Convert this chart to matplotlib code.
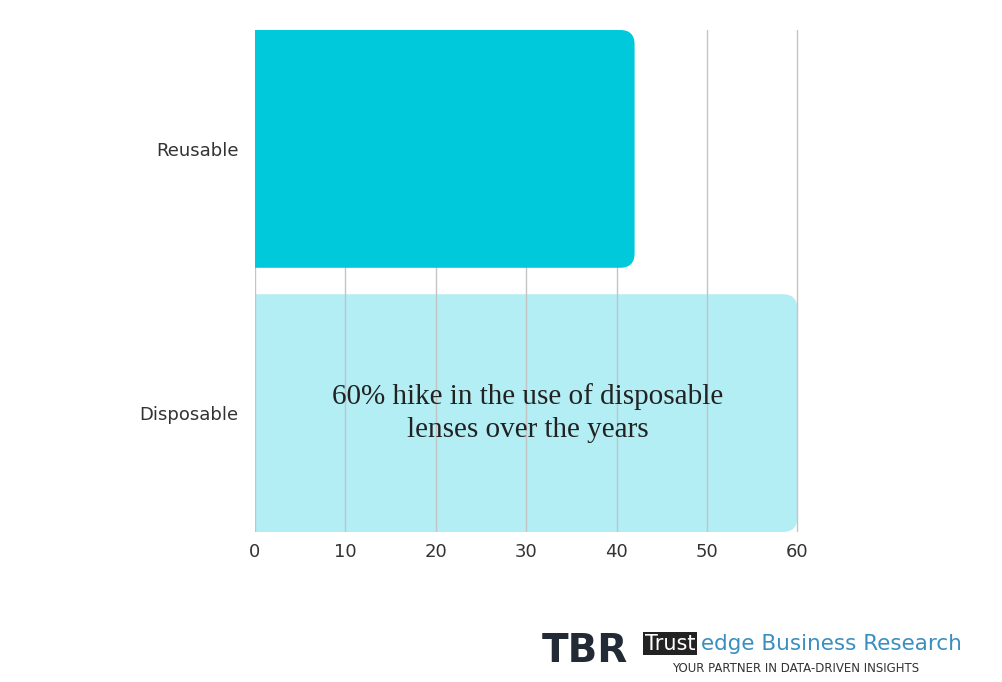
import matplotlib.pyplot as plt
from matplotlib.patches import FancyBboxPatch

categories = ['Reusable', 'Disposable']
values = [42, 60]
colors = ['#00C9DC', '#00C9DC']
alphas = [1.0, 0.3]
ticks = [0, 10, 20, 30, 40, 50, 60]

fig = plt.figure(figsize=(10.03, 6.82), dpi=100)
fig.patch.set_facecolor('white')
ax = fig.add_axes([255 / 1003, 1 - 532 / 682, 545 / 1003, 502 / 682])

bars = ax.barh(range(len(categories)), values, height=0.9, color='none')
for b, c, a, z in zip(bars, colors, alphas, [3, 1]):
    x, y, w, h = b.get_x(), b.get_y(), b.get_width(), b.get_height()
    # rounded on the right; left round is clipped at the axis
    p = FancyBboxPatch((x - 3, y), w + 3, h, boxstyle='round,pad=0,rounding_size=1.6',
                       mutation_aspect=0.9 / 238 * 545 / 60,
                       facecolor=c, alpha=a, edgecolor='none', zorder=z)
    ax.add_patch(p)

ax.set_xlim(0, 60.3)
ax.set_ylim(1.45, -0.45)
ax.set_xticks(ticks)
ax.set_yticks(range(len(categories)))
ax.set_yticklabels(categories)
ax.grid(axis='x', color='#c4c4c4', linewidth=1, zorder=2)
for s in ax.spines.values():
    s.set_visible(False)
ax.tick_params(length=0, labelsize=13, labelcolor='#333333', pad=12)
ax.tick_params(axis='x', pad=8)

ax.text(30.2, 1, '60% hike in the use of disposable\nlenses over the years', ha='center', va='center',
        fontsize=21, family='Liberation Serif', color='#222222', linespacing=1.35, zorder=4)

# logo
fig.text(0.54, 0.045, 'TBR', fontsize=28, fontweight='bold', color='#222a35', ha='left', va='center',
         family='DejaVu Sans')
fig.text(0.643, 0.056, 'Trust', fontsize=15, color='white', ha='left', va='center',
         bbox=dict(facecolor='#222222', edgecolor='none', pad=1))
fig.text(0.699, 0.056, 'edge Business Research', fontsize=15.5, color='#3a8fc0', ha='left', va='center')
fig.text(0.67, 0.02, 'YOUR PARTNER IN DATA-DRIVEN INSIGHTS', fontsize=8.5, color='#333333', ha='left', va='center')

fig.savefig('out.png', dpi=100)
